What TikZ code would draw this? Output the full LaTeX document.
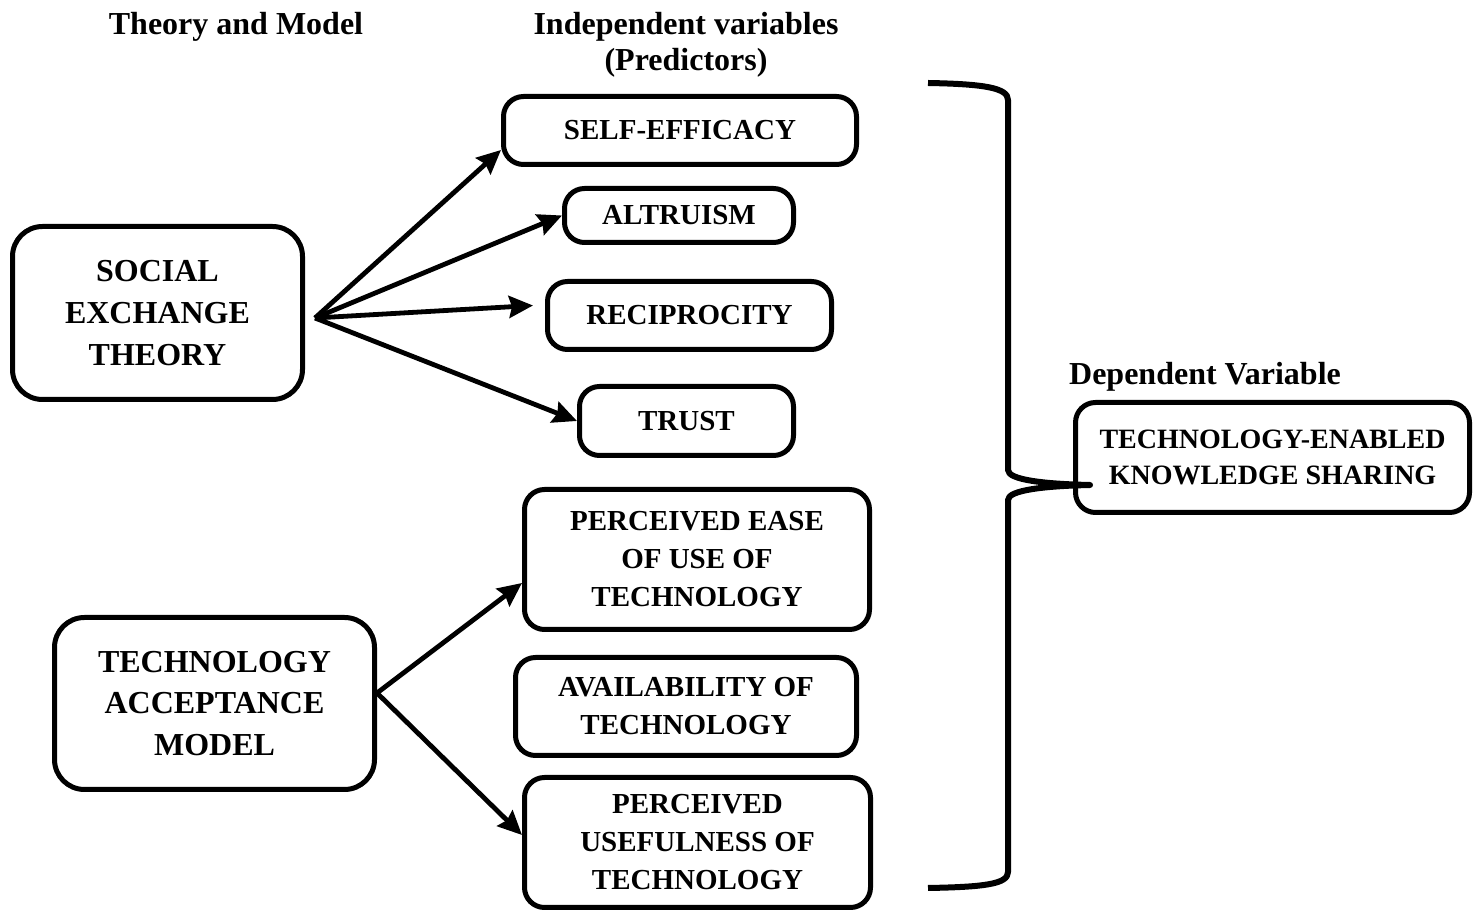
\documentclass[tikz,border=0pt]{standalone}
\usepackage{fontspec}
\setmainfont{Liberation Serif}
\usetikzlibrary{arrows.meta}

\begin{document}
\begin{tikzpicture}[x=0.5pt, y=-0.5pt,
  theory/.style={draw, line width=2.5pt, rounded corners=15pt, align=center, inner sep=0pt,
    font=\fontsize{16}{20.8}\selectfont\bfseries},
  pred/.style={draw, line width=2.5pt, rounded corners=10pt, align=center, inner sep=0pt,
    font=\fontsize{14.5}{19}\selectfont\bfseries},
  head/.style={align=center, inner sep=0pt, font=\fontsize{16}{18}\selectfont\bfseries},
  link/.style={-{Stealth[length=12pt,width=11pt,inset=1.5pt]}, line width=2.4pt, line join=round}]
  \useasboundingbox (0,0) rectangle (1473,913);

  % headings
  \node[head] (hdtheory) at (236,27) {Theory and Model};
  \node[head] (hdindep) at (686,45) {Independent variables\\(Predictors)};
  \node[head] (hddep) at (1205,377) {Dependent Variable};

  % theories
  \node[theory, minimum width=145pt, minimum height=86.5pt] (set) at (157.5,313) {SOCIAL\\EXCHANGE\\THEORY};
  \node[theory, minimum width=160pt, minimum height=86pt] (tam) at (214.5,703.5) {TECHNOLOGY\\ACCEPTANCE\\MODEL};

  % predictors
  \node[pred, minimum width=176.5pt, minimum height=34pt] (selfeff) at (680,130.5) {SELF-EFFICACY};
  \node[pred, minimum width=114.5pt, minimum height=27pt] (altru) at (679,215.5) {ALTRUISM};
  \node[pred, minimum width=142pt, minimum height=34pt] (recip) at (689.5,315.5) {RECIPROCITY};
  \node[pred, minimum width=107pt, minimum height=34.5pt] (trust) at (686.5,421) {TRUST};
  \node[pred, minimum width=172.5pt, minimum height=70pt] (peou) at (697,559.5) {PERCEIVED EASE\\OF USE OF\\TECHNOLOGY};
  \node[pred, minimum width=170.5pt, minimum height=49pt] (avail) at (686,706.5) {AVAILABILITY OF\\TECHNOLOGY};
  \node[pred, minimum width=173pt, minimum height=65pt] (pu) at (697.5,842.5) {PERCEIVED\\USEFULNESS OF\\TECHNOLOGY};

  % outcome
  \node[pred, minimum width=197pt, minimum height=55pt, font=\fontsize{14}{18}\selectfont\bfseries] (teks) at (1272.5,457.5) {TECHNOLOGY-ENABLED\\KNOWLEDGE SHARING};

  % arrows
  \coordinate (setout) at ([xshift=5pt,yshift=-2.5pt]set.east);
  \coordinate (tamout) at ([yshift=5.25pt]tam.east);
  \draw[link] (setout) -- ([yshift=-9.75pt]selfeff.west);
  \draw[link] (setout) -- (altru.west);
  \draw[link] (setout) -- ([xshift=-6pt,yshift=5pt]recip.west);
  \draw[link] (setout) -- (trust.west);
  \draw[link] (tamout) -- ([yshift=-11.75pt]peou.west);
  \draw[link] (tamout) -- ([yshift=3.75pt]pu.west);

  % brace
  \draw[line width=3pt, line join=round] (928,83) .. controls (985,84) and (1008,88) .. (1008,100)
    -- (1008,470) .. controls (1008,480) and (1045,484) .. (1090,485)
    .. controls (1045,486) and (1008,490) .. (1008,500)
    -- (1008,872) .. controls (1008,884) and (985,887) .. (928,888);
\end{tikzpicture}
\end{document}
